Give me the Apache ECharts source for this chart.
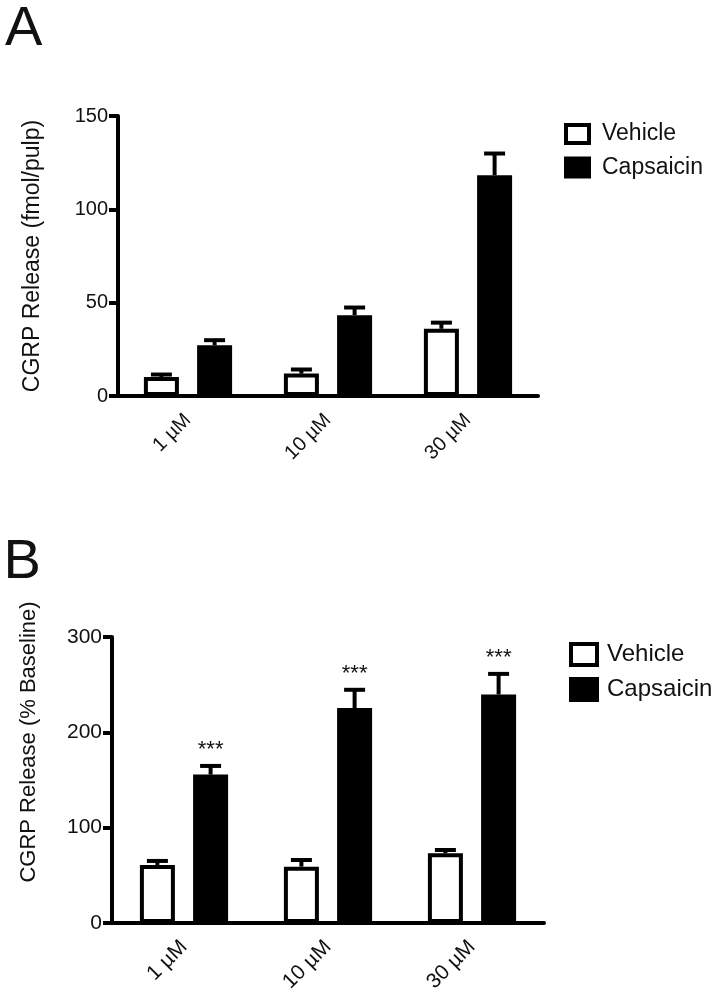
<!DOCTYPE html>
<html>
<head>
<meta charset="utf-8">
<script src="https://cdn.jsdelivr.net/npm/echarts@6/dist/echarts.min.js"></script>
<style>html,body{margin:0;padding:0;background:#fff}#c{width:717px;height:995px}</style>
</head>
<body>
<div id="c"></div>
<script>
// ---- data ----
const categories = ['1 µM', '10 µM', '30 µM'];
const seriesNames = ['Vehicle', 'Capsaicin'];
// Panel A: CGRP Release (fmol/pulp)
const vehicleA = [10.2, 12.0, 36.0];
const vehicleSemA = [1.3, 2.2, 3.3];
const capsaicinA = [27.2, 43.3, 118.3];
const capsaicinSemA = [2.7, 4.1, 11.6];
const yTicksA = [0, 50, 100, 150];
// Panel B: CGRP Release (% Baseline)
const vehicleB = [60.8, 59.0, 73.0];
const vehicleSemB = [4.2, 7.0, 3.5];
const capsaicinB = [155.6, 225.4, 239.7];
const capsaicinSemB = [9.1, 19.2, 21.6];
const sigB = ['***', '***', '***'];
const yTicksB = [0, 100, 200, 300];

// ---- styling ----
const FONT = '"Liberation Sans", Arial, Helvetica, sans-serif';
const INK = '#111';
const BAR_W = 35;
const BAR_GAP = 0.52;
const OFFSET = BAR_W * (1 + BAR_GAP) / 2;
const CAP = 21;

function errSeries(name, means, sems, off, xi, yi, stars) {
  return {
    type: 'custom', name: name, xAxisIndex: xi, yAxisIndex: yi, silent: true, z: 5,
    data: means.map((m, i) => [i, m, sems[i]]),
    encode: {x: 0, y: 1},
    renderItem: function (params, api) {
      const idx = api.value(0), m = api.value(1), s = api.value(2);
      const base = api.coord([idx, m]);
      const top = api.coord([idx, m + s]);
      const x = base[0] + off;
      const ch = [
        {type: 'line', shape: {x1: x, y1: base[1], x2: x, y2: top[1]}, style: {stroke: '#000', lineWidth: 4}},
        {type: 'line', shape: {x1: x - CAP / 2, y1: top[1], x2: x + CAP / 2, y2: top[1]}, style: {stroke: '#000', lineWidth: 4}}
      ];
      if (stars) {
        ch.push({type: 'text', style: {x: x, y: top[1] - 16, text: stars[params.dataIndex], fill: INK,
          font: '22px ' + FONT, textAlign: 'center', textVerticalAlign: 'middle'}});
      }
      return {type: 'group', children: ch};
    }
  };
}

function barSeries(name, data, xi, yi, filled) {
  return {
    type: 'bar', name: name, xAxisIndex: xi, yAxisIndex: yi, data: data,
    barWidth: BAR_W, barGap: (BAR_GAP * 100) + '%',
    itemStyle: {color: filled ? '#000' : '#fff', borderColor: '#000', borderWidth: 4},
    emphasis: {disabled: true}
  };
}

function xAxisCfg(gi, fs) {
  return {
    type: 'category', gridIndex: gi, data: categories,
    axisLine: {lineStyle: {color: '#000', width: 4}},
    axisTick: {alignWithLabel: true, length: 8, lineStyle: {color: '#000', width: 4}},
    axisLabel: {rotate: 45, margin: 21, color: INK, fontSize: fs, fontFamily: FONT},
    splitLine: {show: false}
  };
}
function yAxisCfg(gi, ticks, name, fs, nfs, gap, pad) {
  return {
    type: 'value', gridIndex: gi, min: ticks[0], max: ticks[ticks.length - 1],
    interval: ticks[1] - ticks[0],
    name: name, nameLocation: 'middle', nameGap: gap,
    nameTextStyle: {color: INK, fontSize: nfs, fontFamily: FONT, padding: pad},
    axisLine: {show: true, lineStyle: {color: '#000', width: 4}},
    axisTick: {show: true, length: 9, lineStyle: {color: '#000', width: 4}},
    axisLabel: {margin: 10, color: INK, fontSize: fs, fontFamily: FONT},
    splitLine: {show: false}
  };
}

const chart = echarts.init(document.getElementById('c'), null, {renderer: 'canvas'});
chart.setOption({
  animation: false,
  backgroundColor: '#fff',
  graphic: [
    {type: 'text', style: {x: 5, y: 29.5, text: 'A', fill: INK, font: '56px ' + FONT, textVerticalAlign: 'middle'}},
    {type: 'text', style: {x: 3.5, y: 562.5, text: 'B', fill: INK, font: '56px ' + FONT, textVerticalAlign: 'middle'}}
  ],
  grid: [
    {left: 118, top: 116, width: 420, height: 280},
    {left: 112, top: 637, width: 432, height: 286}
  ],
  legend: [
    {orient: 'vertical', left: 564, top: 122.5, padding: 0, itemWidth: 23, itemHeight: 18, itemGap: 10.5,
     data: seriesNames, icon: 'rect', selectedMode: false,
     itemStyle: {borderWidth: 4, borderColor: '#000'},
     textStyle: {color: INK, fontSize: 23, fontFamily: FONT, padding: [0, 0, 0, 8]}},
    {orient: 'vertical', left: 569, top: 642, padding: 0, itemWidth: 26, itemHeight: 21, itemGap: 10,
     data: seriesNames, icon: 'rect', selectedMode: false,
     itemStyle: {borderWidth: 4, borderColor: '#000'},
     textStyle: {color: INK, fontSize: 24, fontFamily: FONT, padding: [0, 0, 0, 5]}}
  ],
  xAxis: [xAxisCfg(0, 20), xAxisCfg(1, 21)],
  yAxis: [
    yAxisCfg(0, yTicksA, 'CGRP Release (fmol/pulp)', 20, 23, 74, [0, 0, 0, 0]),
    yAxisCfg(1, yTicksB, 'CGRP Release (% Baseline)', 21, 22, 72, [0, 0, 0, 76])
  ],
  series: [
    barSeries('Vehicle', vehicleA, 0, 0, false),
    barSeries('Capsaicin', capsaicinA, 0, 0, true),
    errSeries('Vehicle SEM A', vehicleA, vehicleSemA, -OFFSET, 0, 0, null),
    errSeries('Capsaicin SEM A', capsaicinA, capsaicinSemA, OFFSET, 0, 0, null),
    barSeries('Vehicle', vehicleB, 1, 1, false),
    barSeries('Capsaicin', capsaicinB, 1, 1, true),
    errSeries('Vehicle SEM B', vehicleB, vehicleSemB, -OFFSET, 1, 1, null),
    errSeries('Capsaicin SEM B', capsaicinB, capsaicinSemB, OFFSET, 1, 1, sigB)
  ]
});
</script>
</body>
</html>
